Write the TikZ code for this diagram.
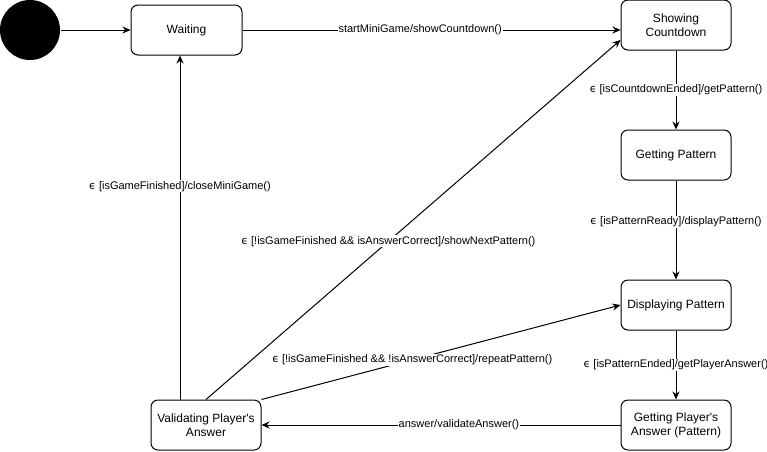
\documentclass[tikz,border=0pt]{standalone}
\usepackage{fontspec}
\setmainfont{Liberation Sans}[Ligatures=TeXOff]
\newfontfamily\epsfont{DejaVu Sans}
\usetikzlibrary{arrows.meta}

\newcommand{\eps}{{\epsfont ϵ}}

\begin{document}
\begin{tikzpicture}[x=1pt,y=-1pt,line width=1pt,
    state/.style={draw,rounded corners=7pt,minimum width=110pt,minimum height=50pt,inner sep=0pt,align=center,font=\fontsize{12}{14}\selectfont},
    trans/.style={-{Stealth[length=8pt,width=7pt]}},
    lbl/.style={fill=white,inner sep=1pt,font=\fontsize{11}{13}\selectfont}] % Mini game states
        \useasboundingbox (0,0) rectangle (767,451);
        \node[circle,fill=black,minimum size=60pt,inner sep=0pt] (init) at (30,30) {};
        \node[state,minimum width=111pt] (wait) at (186.5,30) {Waiting};
        \node[state] (show) at (676,25) {Showing\\Countdown};
        \node[state] (getpat) at (676,155) {Getting Pattern};
        \node[state] (disp) at (676,305) {Displaying Pattern};
        \node[state] (getans) at (676,425) {Getting Player's\\Answer (Pattern)};
        \node[state] (valid) at (206,425) {Validating Player's\\Answer};
        % transitions
        \draw[trans] (init) -- (wait);
        \draw[trans] (wait.east) -- (wait.east -| show.west)
                node[lbl,pos=0.47] {startMiniGame/showCountdown()};
        \draw[trans] (show) -- (getpat)
                node[lbl,midway] {\eps{} [isCountdownEnded]/getPattern()};
        \draw[trans] (getpat) -- (disp)
                node[lbl,pos=0.42] {\eps{} [isPatternReady]/displayPattern()};
        \draw[trans] (disp) -- (getans)
                node[lbl,midway] {\eps{} [isPatternEnded]/getPlayerAnswer()};
        \draw[trans] (getans) -- (valid)
                node[lbl,pos=0.45] {answer/validateAnswer()};
        \draw[trans] ([xshift=-26pt]valid.north) -- ([xshift=-6.5pt]wait.south)
                node[lbl,pos=0.62] {\eps{} [isGameFinished]/closeMiniGame()};
        \draw[trans] (valid.north) -- ([yshift=-15pt]show.west)
                node[lbl,pos=0.44] {\eps{} [!isGameFinished \&\& isAnswerCorrect]/showNextPattern()};
        \draw[trans] (valid.north east) -- (disp.west)
                node[lbl,pos=0.42] {\eps{} [!isGameFinished \&\& !isAnswerCorrect]/repeatPattern()};
\end{tikzpicture}
\end{document}
